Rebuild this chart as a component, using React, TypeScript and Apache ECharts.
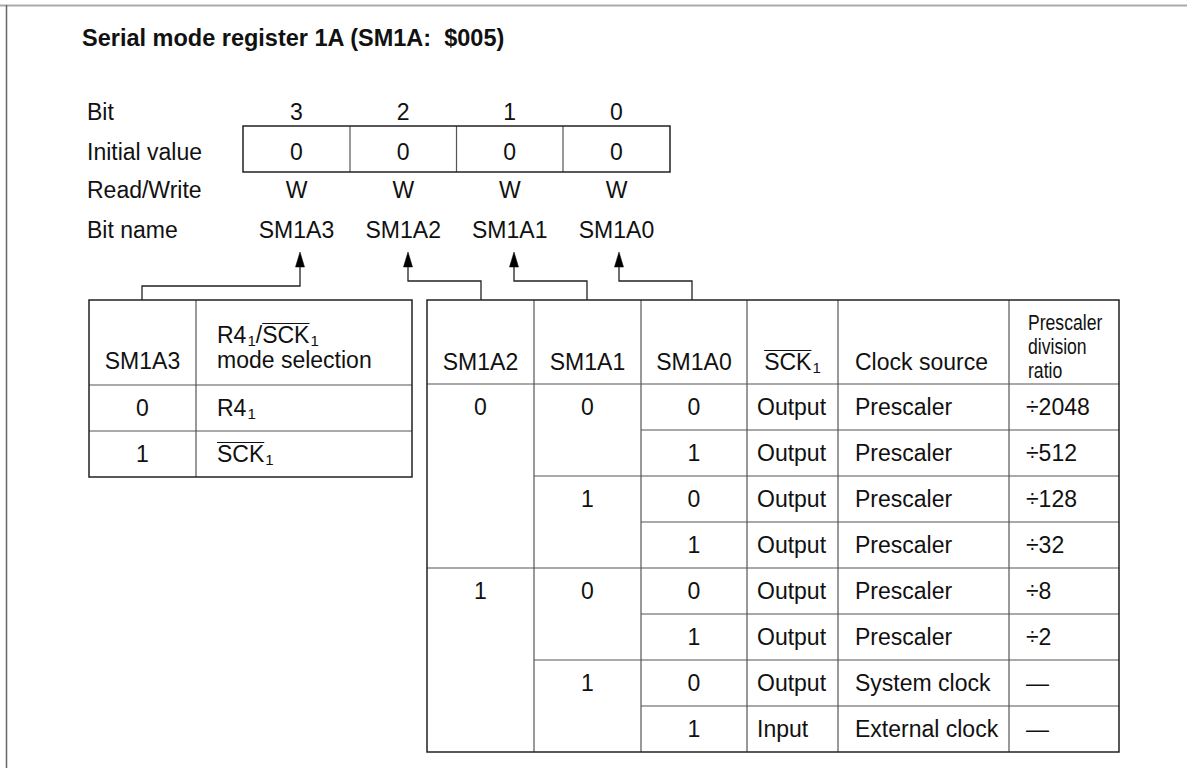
import { useEffect, useRef } from "react";
import * as echarts from "echarts";

// ---------- data ----------
const TITLE = "Serial mode register 1A (SM1A:  $005)";
const ROW_LABELS = ["Bit", "Initial value", "Read/Write", "Bit name"];
const BIT_NUMBERS = ["3", "2", "1", "0"];
const INITIAL_VALUES = ["0", "0", "0", "0"];
const READ_WRITE = ["W", "W", "W", "W"];
const BIT_NAMES = ["SM1A3", "SM1A2", "SM1A1", "SM1A0"];

const SM1A3_VALUES = ["0", "1"];
const SM1A3_MODES = ["R4_1", "~SCK_1"];

const RIGHT_HEADERS = ["SM1A2", "SM1A1", "SM1A0"];
const SM1A2_VALUES = ["0", "", "", "", "1", "", "", ""];
const SM1A1_VALUES = ["0", "", "1", "", "0", "", "1", ""];
const SM1A0_VALUES = ["0", "1", "0", "1", "0", "1", "0", "1"];
const SCK_DIRECTION = ["Output", "Output", "Output", "Output", "Output", "Output", "Output", "Input"];
const CLOCK_SOURCE = ["Prescaler", "Prescaler", "Prescaler", "Prescaler", "Prescaler", "Prescaler", "System clock", "External clock"];
const DIVISION_RATIO = ["÷2048", "÷512", "÷128", "÷32", "÷8", "÷2", "—", "—"];
const RATIO_HEADER = ["Prescaler", "division", "ratio"];

// ---------- layout ----------
const FONT = '"Liberation Sans", Arial, Helvetica, sans-serif';
const FS = 23;
const SUB_FS = 15;
const TEXT = "#111";
const DARK = "#222";
const GRAY = "#555";

const REG_LABEL_X = 87;
const REG_ROW_Y = [112, 152, 190, 230];
const REG_X = [243, 350, 456.5, 563, 670];
const REG_BOX_Y = [126, 172];
const ARROW_X = [300, 408, 514, 619];
const ARROW_TIP = 252;
const ARROW_BASE = 267;
const ARROW_TURN_Y = [286, 281, 281, 281];
const ARROW_END_X = [142, 481, 587, 692];
const TABLE_TOP = 300;

const L_X = [89, 196, 412];
const L_Y = [300, 385, 431, 477];

const R_X = [427, 534, 641, 747, 838, 1009, 1119];
const R_HEAD_BOTTOM = 384;
const R_ROW_H = 46;

let measureCtx: CanvasRenderingContext2D | null = null;
function measure(text: string, size: number, family = FONT, weight = "normal") {
  if (!measureCtx) measureCtx = document.createElement("canvas").getContext("2d");
  if (!measureCtx) return text.length * size * 0.55;
  measureCtx.font = `${weight} ${size}px ${family}`;
  return measureCtx.measureText(text).width;
}

function txt(text: string, x: number, y: number, align = "left", o: any = {}) {
  return {
    type: "text",
    silent: true,
    style: {
      text,
      x,
      y,
      fill: TEXT,
      fontSize: o.fontSize ?? FS,
      fontFamily: o.fontFamily ?? FONT,
      fontWeight: o.fontWeight ?? "normal",
      align,
      textAlign: align,
      verticalAlign: "middle",
      textVerticalAlign: "middle",
    },
  };
}

// horizontally condensed text (narrow typeface look)
function narrowTxt(text: string, x: number, y: number, size: number, scale: number) {
  return {
    type: "text",
    silent: true,
    x,
    y,
    scaleX: scale,
    scaleY: 1,
    style: {
      text,
      x: 0,
      y: 0,
      fill: TEXT,
      fontSize: size,
      fontFamily: FONT,
      align: "left",
      textAlign: "left",
      verticalAlign: "middle",
      textVerticalAlign: "middle",
    },
  };
}

function line(x1: number, y1: number, x2: number, y2: number, stroke = GRAY, lw = 1.2) {
  return { type: "line", silent: true, shape: { x1, y1, x2, y2 }, style: { stroke, lineWidth: lw } };
}

// Notation: "~" marks an overlined segment, "_" precedes a subscript. e.g. "R4_1/~SCK_1"
type Seg = { t: string; sub?: boolean; over?: boolean };
function parseSegs(s: string): Seg[] {
  const segs: Seg[] = [];
  const re = /(~[A-Za-z0-9]+)|(_[0-9]+)|([^~_]+?)(?=~|_|$)/g;
  let m: RegExpExecArray | null;
  while ((m = re.exec(s)) !== null) {
    if (m[1]) segs.push({ t: m[1].slice(1), over: true });
    else if (m[2]) segs.push({ t: m[2].slice(1), sub: true });
    else if (m[3]) segs.push({ t: m[3] });
  }
  return segs;
}

function richLabel(s: string, x: number, y: number, align: "left" | "center") {
  const segs = parseSegs(s);
  const widths = segs.map((g) => measure(g.t, g.sub ? SUB_FS : FS) + (g.sub ? 1 : 0));
  const total = widths.reduce((a, b) => a + b, 0);
  let cx = align === "center" ? x - total / 2 : x;
  const els: any[] = [];
  segs.forEach((g, i) => {
    if (g.sub) {
      els.push(txt(g.t, cx + 1, y + 5, "left", { fontSize: SUB_FS }));
    } else {
      els.push(txt(g.t, cx, y, "left"));
      if (g.over) els.push(line(cx, y - 11.5, cx + widths[i], y - 11.5, TEXT, 1.2));
    }
    cx += widths[i];
  });
  return els;
}

function buildElements() {
  const els: any[] = [];

  // outer frame
  els.push(line(0, 5.5, 1187, 5.5, "#aaa", 2));
  els.push(line(6.5, 5, 6.5, 768, "#666", 1.5));

  // title
  els.push(txt(TITLE, 82, 38, "left", { fontWeight: "bold", fontSize: 23.5 }));

  // register labels
  ROW_LABELS.forEach((l, i) => els.push(txt(l, REG_LABEL_X, REG_ROW_Y[i])));
  const cellC = (i: number) => (REG_X[i] + REG_X[i + 1]) / 2;
  BIT_NUMBERS.forEach((v, i) => els.push(txt(v, cellC(i), REG_ROW_Y[0], "center")));
  INITIAL_VALUES.forEach((v, i) => els.push(txt(v, cellC(i), REG_ROW_Y[1], "center")));
  READ_WRITE.forEach((v, i) => els.push(txt(v, cellC(i), REG_ROW_Y[2], "center")));
  BIT_NAMES.forEach((v, i) => els.push(txt(v, cellC(i), REG_ROW_Y[3], "center")));

  // register box
  for (let i = 1; i < REG_X.length - 1; i++) els.push(line(REG_X[i], REG_BOX_Y[0], REG_X[i], REG_BOX_Y[1], GRAY, 1.2));
  els.push({
    type: "rect",
    silent: true,
    shape: { x: REG_X[0], y: REG_BOX_Y[0], width: REG_X[4] - REG_X[0], height: REG_BOX_Y[1] - REG_BOX_Y[0] },
    style: { fill: "none", stroke: DARK, lineWidth: 1.5 },
  });

  // arrows
  ARROW_X.forEach((ax, i) => {
    els.push({
      type: "polygon",
      silent: true,
      shape: { points: [[ax, ARROW_TIP], [ax - 4.5, ARROW_BASE], [ax + 4.5, ARROW_BASE]] },
      style: { fill: "#000", stroke: "#000", lineWidth: 0.5 },
    });
    els.push({
      type: "polyline",
      silent: true,
      shape: { points: [[ax, ARROW_BASE], [ax, ARROW_TURN_Y[i]], [ARROW_END_X[i], ARROW_TURN_Y[i]], [ARROW_END_X[i], TABLE_TOP]] },
      style: { fill: "none", stroke: DARK, lineWidth: 1.3 },
    });
  });

  // ---- left table ----
  els.push(line(L_X[1], L_Y[0], L_X[1], L_Y[3], GRAY, 1.2));
  els.push(line(L_X[0], L_Y[1], L_X[2], L_Y[1], GRAY, 1.2));
  els.push(line(L_X[0], L_Y[2], L_X[2], L_Y[2], GRAY, 1.2));
  els.push({
    type: "rect",
    silent: true,
    shape: { x: L_X[0], y: L_Y[0], width: L_X[2] - L_X[0], height: L_Y[3] - L_Y[0] },
    style: { fill: "none", stroke: DARK, lineWidth: 1.5 },
  });
  const lc = (L_X[0] + L_X[1]) / 2;
  els.push(txt("SM1A3", lc, 361, "center"));
  els.push(...richLabel("R4_1/~SCK_1", 217, 335, "left"));
  els.push(txt("mode selection", 217, 360));
  SM1A3_VALUES.forEach((v, i) => {
    const cy = (L_Y[i + 1] + L_Y[i + 2]) / 2;
    els.push(txt(v, lc, cy, "center"));
    els.push(...richLabel(SM1A3_MODES[i], 217, cy, "left"));
  });

  // ---- right table ----
  const bottom = R_HEAD_BOTTOM + R_ROW_H * SM1A0_VALUES.length;
  for (let i = 1; i < R_X.length - 1; i++) els.push(line(R_X[i], TABLE_TOP, R_X[i], bottom, GRAY, 1.2));
  els.push(line(R_X[0], R_HEAD_BOTTOM, R_X[6], R_HEAD_BOTTOM, GRAY, 1.2));
  for (let r = 1; r < SM1A0_VALUES.length; r++) {
    const y = R_HEAD_BOTTOM + R_ROW_H * r;
    const x0 = SM1A2_VALUES[r] !== "" ? R_X[0] : SM1A1_VALUES[r] !== "" ? R_X[1] : R_X[2];
    els.push(line(x0, y, R_X[6], y, GRAY, 1.2));
  }
  els.push({
    type: "rect",
    silent: true,
    shape: { x: R_X[0], y: TABLE_TOP, width: R_X[6] - R_X[0], height: bottom - TABLE_TOP },
    style: { fill: "none", stroke: DARK, lineWidth: 1.5 },
  });

  const colC = (i: number) => (R_X[i] + R_X[i + 1]) / 2;
  const HEAD_Y = 362;
  RIGHT_HEADERS.forEach((h, i) => els.push(txt(h, colC(i), HEAD_Y, "center")));
  els.push(...richLabel("~SCK_1", colC(3), HEAD_Y, "center"));
  els.push(txt("Clock source", R_X[4] + 17, HEAD_Y));
  RATIO_HEADER.forEach((h, i) => els.push(narrowTxt(h, R_X[5] + 19, 322 + i * 24, 22, 0.8)));

  SM1A0_VALUES.forEach((_, r) => {
    const cy = R_HEAD_BOTTOM + R_ROW_H * r + R_ROW_H / 2;
    if (SM1A2_VALUES[r]) els.push(txt(SM1A2_VALUES[r], colC(0), cy, "center"));
    if (SM1A1_VALUES[r]) els.push(txt(SM1A1_VALUES[r], colC(1), cy, "center"));
    els.push(txt(SM1A0_VALUES[r], colC(2), cy, "center"));
    els.push(txt(SCK_DIRECTION[r], R_X[3] + 10, cy));
    els.push(txt(CLOCK_SOURCE[r], R_X[4] + 17, cy));
    els.push(txt(DIVISION_RATIO[r], R_X[5] + 17, cy));
  });

  return els;
}

export default function App() {
  const ref = useRef<HTMLDivElement>(null);
  useEffect(() => {
    if (!ref.current) return;
    const chart = echarts.init(ref.current, null, { renderer: "svg" });
    chart.setOption({
      animation: false,
      backgroundColor: "#fff",
      graphic: { elements: buildElements() },
    });
    return () => chart.dispose();
  }, []);
  return (
    <div
      ref={ref}
      style={{ position: "absolute", left: 0, top: 0, width: 1187, height: 768, background: "#fff" }}
    />
  );
}
